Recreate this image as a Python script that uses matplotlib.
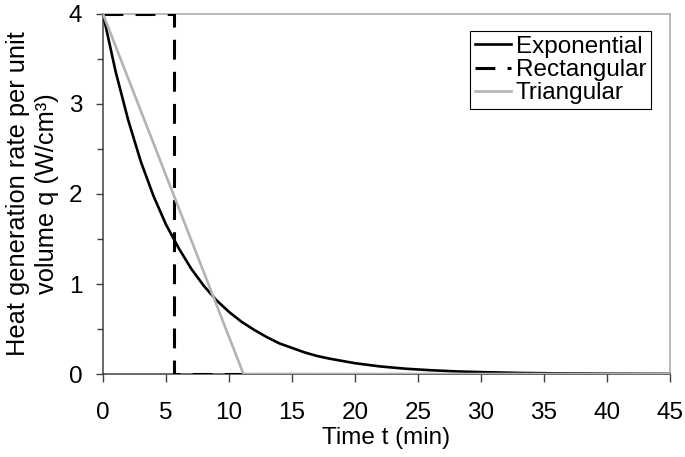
import numpy as np
import matplotlib.pyplot as plt

plt.rcParams['font.family'] = ['Liberation Sans', 'DejaVu Sans']

# values
t_exp = [0, 1, 2, 3, 4, 5, 6, 7, 8, 9, 10, 11, 12, 13, 14, 15, 16, 17, 18,
         20, 22, 24, 26, 28, 30, 33, 36, 40, 45]
q_exp = [4.00, 3.36, 2.82, 2.36, 1.98, 1.66, 1.40, 1.17, 0.98, 0.82, 0.69,
         0.58, 0.49, 0.41, 0.34, 0.29, 0.24, 0.20, 0.17, 0.12, 0.084, 0.059,
         0.042, 0.029, 0.021, 0.012, 0.007, 0.004, 0.0015]

t_rect = [0, 5.63, 5.63, 45]
q_rect = [4, 4, 0, 0]

t_tri = [0, 11.15, 45]
q_tri = [4, 0, 0]

fs = 17.5

fig = plt.figure(figsize=(6.85, 4.57), dpi=100)
ax = fig.add_axes([0.1504, 0.1816, 0.8276, 0.7878])

ax.plot(t_exp, q_exp, color='black', lw=1.9, label='Exponential', zorder=3)
ax.plot(t_rect, q_rect, color='black', lw=2.2, dashes=(6.5, 4),
        label='Rectangular', zorder=4)
ax.plot(t_tri, q_tri, color='#b3b3b3', lw=1.9, label='Triangular', zorder=5)

ax.set_xlim(0, 45)
ax.set_ylim(0, 4)
ax.set_xticks(np.arange(0, 46, 5))
ax.set_yticks([0, 1, 2, 3, 4])
ax.set_yticks(np.arange(0.5, 4, 1), minor=True)

for s in ['left', 'bottom']:
    ax.spines[s].set_color('#404040')
    ax.spines[s].set_linewidth(1.1)
for s in ['top', 'right']:
    ax.spines[s].set_color('#a6a6a6')
    ax.spines[s].set_linewidth(1.1)

ax.tick_params(axis='both', which='major', direction='out', length=5,
               width=1, color='#404040', labelsize=fs)
ax.tick_params(axis='y', which='minor', direction='out', length=4,
               width=1, color='#404040')
ax.tick_params(axis='x', pad=14, length=6)
ax.tick_params(axis='y', which='major', pad=10)

ax.set_xlabel('Time t (min)', fontsize=fs, labelpad=2)
ax.set_ylabel('Heat generation rate per unit\nvolume q (W/cm³)', fontsize=18.3,
              linespacing=1.25, labelpad=7)

leg = ax.legend(loc='upper right', bbox_to_anchor=(0.967, 0.953), fontsize=fs,
                frameon=True, fancybox=False, edgecolor='black', framealpha=1,
                handlelength=1.5, handletextpad=0.2, labelspacing=0.05,
                borderpad=0.2, borderaxespad=0)
leg.get_frame().set_linewidth(0.8)

fig.savefig('out.png', dpi=100)
